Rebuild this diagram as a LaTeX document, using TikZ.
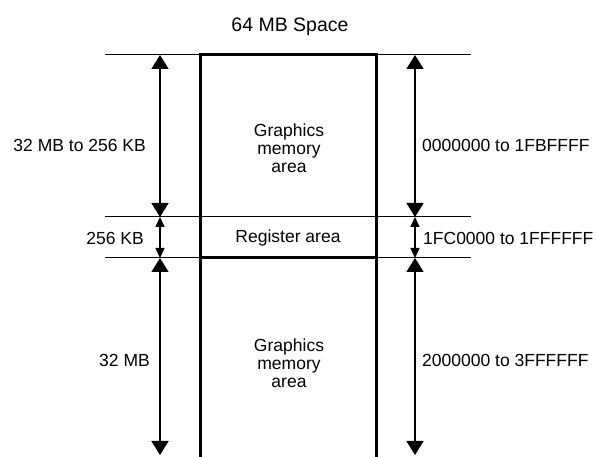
\documentclass[tikz,border=0pt]{standalone}
\usepackage{fontspec}
\setmainfont{Liberation Sans}
\usetikzlibrary{arrows.meta}
\begin{document}
\begin{tikzpicture}[x=1pt,y=-1pt,
  thinline/.style={line width=1pt},
  boxline/.style={line width=3pt},
  dimarrow/.style={line width=1.5pt,{Triangle[width=17pt,length=14pt]}-{Triangle[width=17pt,length=14pt]}},
  smalldim/.style={line width=1.5pt,{Triangle[width=9pt,length=10pt]}-{Triangle[width=9pt,length=10pt]}},
  lbl/.style={font=\fontsize{17.5}{18}\selectfont, inner sep=0pt},
  titlelbl/.style={font=\fontsize{19.5}{22}\selectfont, inner sep=0pt}]
\useasboundingbox (0,0) rectangle (598,457);
% reference coordinates
\coordinate (LT) at (105,55);  \coordinate (RT) at (471,55);
\coordinate (LM) at (105,217); \coordinate (RM) at (471,217);
\coordinate (LB) at (105,258); \coordinate (RB) at (471,258);
\coordinate (BTL) at (200,55); \coordinate (BTR) at (376,55);
\coordinate (BML) at (200,258); \coordinate (BMR) at (376,258);
\coordinate (BBL) at (200,457); \coordinate (BBR) at (376,457);
\coordinate (A1) at (160,55);  \coordinate (A2) at (160,217);
\coordinate (A3) at (160,258); \coordinate (A4) at (160,455);
\coordinate (C1) at (415,55);  \coordinate (C2) at (415,217);
\coordinate (C3) at (415,258); \coordinate (C4) at (415,455);
% thin guide lines
\draw[thinline] (LT) -- (BTL);
\draw[thinline] (BTR) -- (RT);
\draw[thinline] (LM) -- (RM);
\draw[thinline] (LB) -- (BML);
\draw[thinline] (BMR) -- (RB);
% box
\draw[boxline] (BBL) -- (BTL) -- (BTR) -- (BBR);
\draw[boxline] (BML) -- (BMR);
% dimension arrows
\draw[dimarrow] (A1) -- (A2);
\draw[smalldim] (A2) -- (A3);
\draw[dimarrow] (A3) -- (A4);
\draw[dimarrow] (C1) -- (C2);
\draw[smalldim] (C2) -- (C3);
\draw[dimarrow] (C3) -- (C4);
% texts
\node[titlelbl] (title) at (290,27) {64 MB Space};
\node[lbl, anchor=east] (l1) at (146,145) {32 MB to 256 KB};
\node[lbl, anchor=west] (r1) at (422,145) {0000000 to 1FBFFFF};
\node[lbl, anchor=east] (l2) at (144,238) {256 KB};
\node[lbl] (reg) at (288,238) {Register area};
\node[lbl, anchor=west] (r2) at (423,238) {1FC0000 to 1FFFFFF};
\node[lbl, anchor=east] (l3) at (150,360) {32 MB};
\node[lbl, anchor=west] (r3) at (422,360) {2000000 to 3FFFFFF};
\node[lbl, align=center] (g1) at (289,148) {Graphics\\memory\\area};
\node[lbl, align=center] (g2) at (289,363) {Graphics\\memory\\area};
\end{tikzpicture}
\end{document}
